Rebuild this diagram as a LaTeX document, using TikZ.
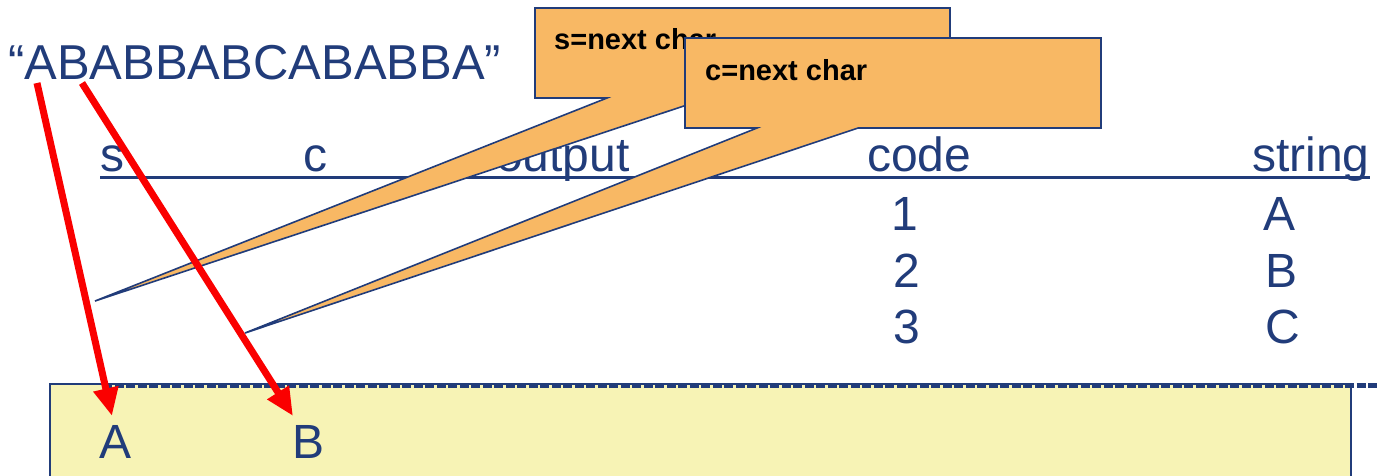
\documentclass[tikz,border=0pt]{standalone}
\usepackage{fontspec}
\setmainfont{Liberation Sans}
\usetikzlibrary{arrows.meta}
\definecolor{ink}{RGB}{33,60,122}
\definecolor{callfill}{RGB}{248,184,100}
\definecolor{outfill}{RGB}{247,243,181}
\definecolor{arrowred}{RGB}{250,0,0}
\tikzset{
  big/.style={text=ink, inner sep=0pt, font=\fontsize{48}{56}\selectfont},
  calltext/.style={text=black, inner sep=0pt, font=\fontsize{29}{34}\selectfont\bfseries},
  callout/.style={fill=callfill, draw=ink, line width=1.6pt, line join=miter},
  flow/.style={draw=arrowred, line width=7pt, -{Triangle[length=28pt,width=24pt]}},
}
\begin{document}
\begin{tikzpicture}[x=1pt,y=-1pt]
\useasboundingbox (0,0) rectangle (1381,475);
\begin{scope}
\clip (0,0) rectangle (1381,475);

% output area
\fill[outfill] (50,384) rectangle (1351,490);
\draw[ink, line width=1.2pt] (50,490) -- (50,384) -- (1351,384) -- (1351,490);
\draw[ink, line width=5pt, dash pattern=on 9pt off 2.5pt] (103,385.5) -- (1379,385.5);

% table header
\node[big, anchor=base west] (hs) at (100,171) {s};
\node[big, anchor=base west] (hc) at (303,171) {c};
\node[big, anchor=base west] (hout) at (496,171) {output};
\node[big, anchor=base west] (hcode) at (867,171) {code};
\node[big, anchor=base west] (hstr) at (1252,171) {string};
\draw[ink, line width=3pt] (100,177) -- (1370,177);

% dictionary rows
\node[big, anchor=base] (c1) at (905,230) {1};
\node[big, anchor=base] (c2) at (907,287) {2};
\node[big, anchor=base] (c3) at (907,343) {3};
\node[big, anchor=base] (s1) at (1279,230) {A};
\node[big, anchor=base] (s2) at (1281,287) {B};
\node[big, anchor=base] (s3) at (1283,343) {C};

% callouts
\coordinate (tip1) at (95,301);
\coordinate (tip2) at (245,333);
\draw[callout] (535,8) -- (950,8) -- (950,98) -- (708,98) -- (tip1) -- (607,98) -- (535,98) -- cycle;
\node[calltext, anchor=base west] (cs) at (554,49) {s=next char};
\draw[callout] (685,38) -- (1101,38) -- (1101,128) -- (858,128) -- (tip2) -- (757,128) -- (685,128) -- cycle;
\node[calltext, anchor=base west] (cc) at (705,80) {c=next char};

% input string and output symbols
\node[big, anchor=base west, font=\fontsize{49}{56}\selectfont] (input) at (8,79) {“ABABBABCABABBA”};
\node[big, anchor=base west] (outA) at (99,458) {A};
\node[big, anchor=base west] (outB) at (292,458) {B};

\coordinate (inA) at (37,83);
\coordinate (inB) at (82,83);
\coordinate (toA) at (112,416);
\coordinate (toB) at (293,416);
\draw[flow] (inA) -- (toA);
\draw[flow] (inB) -- (toB);
\end{scope}
\end{tikzpicture}
\end{document}
